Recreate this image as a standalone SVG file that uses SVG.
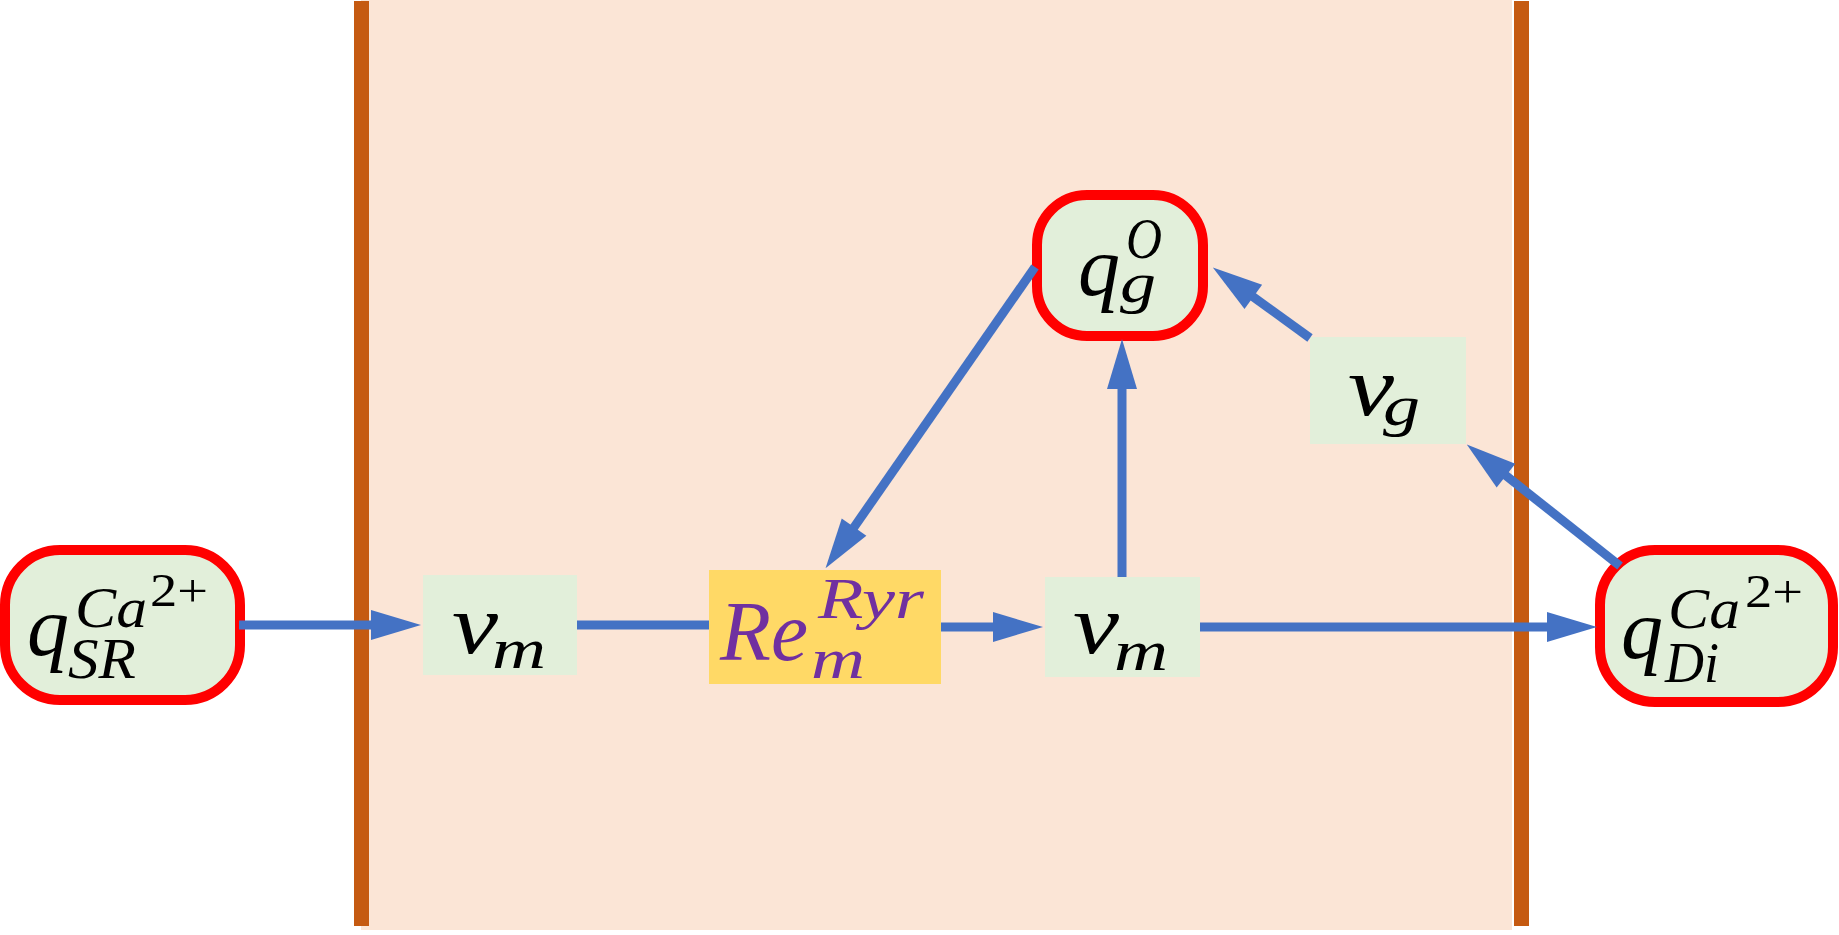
<svg xmlns="http://www.w3.org/2000/svg" width="1839" height="935" viewBox="0 0 1839 935">
<style>
.bg{fill:#FBE5D6}
.bar{fill:#C55A11}
.state{fill:#E2EFDA;stroke:#FF0000;stroke-width:10}
.flux{fill:#E2EFDA}
.rate{fill:#FFD966}
.conn{stroke:#4472C4;stroke-width:9;fill:none}
.m{font-family:"Liberation Serif","Times New Roman",serif;font-style:italic;fill:#000}
.up{font-style:normal}
.big{font-size:84px}
.sc{font-size:58px}
.ssc{font-size:46px}
.pur{fill:#7030A0}
</style>
<defs>
<marker id="ah" markerUnits="userSpaceOnUse" markerWidth="50" markerHeight="30" refX="1" refY="15" orient="auto" overflow="visible">
<path d="M0,0 L50,15 L0,30 z" fill="#4472C4"/>
</marker>
</defs>
<rect width="1839" height="935" fill="#FFFFFF"/>
<g id="compartment">
<rect class="bg" x="361" y="0" width="1151" height="930"/>
<rect class="bar" x="354" y="1" width="15" height="925"/>
<rect class="bar" x="1514" y="1" width="15" height="925"/>
</g>
<g id="q_SR">
<rect class="state" x="5" y="550" width="235" height="150" rx="55" ry="55"/>
<text class="m"><tspan class="big" x="27" y="655">q</tspan><tspan class="sc" x="75" y="627" textLength="72" lengthAdjust="spacingAndGlyphs">Ca</tspan><tspan class="ssc up" x="150" y="606" textLength="58" lengthAdjust="spacingAndGlyphs">2+</tspan><tspan class="sc" x="68" y="678" textLength="68" lengthAdjust="spacingAndGlyphs">SR</tspan></text>
</g>
<g id="v_m1">
<rect class="flux" x="423" y="575" width="154" height="100"/>
<text class="m"><tspan class="big" x="452" y="653" textLength="46" lengthAdjust="spacingAndGlyphs">v</tspan><tspan class="sc" x="492" y="668" textLength="54" lengthAdjust="spacingAndGlyphs">m</tspan></text>
</g>
<g id="Re_m">
<rect class="rate" x="709" y="570" width="232" height="114"/>
<text class="m pur"><tspan class="big" x="720" y="660" textLength="88" lengthAdjust="spacingAndGlyphs">Re</tspan><tspan class="sc" x="818" y="618" textLength="106" lengthAdjust="spacingAndGlyphs">Ryr</tspan><tspan class="sc" x="811" y="678" textLength="54" lengthAdjust="spacingAndGlyphs">m</tspan></text>
</g>
<g id="v_m2">
<rect class="flux" x="1045" y="577" width="155" height="100"/>
<text class="m"><tspan class="big" x="1073" y="653" textLength="46" lengthAdjust="spacingAndGlyphs">v</tspan><tspan class="sc" x="1114" y="670" textLength="54" lengthAdjust="spacingAndGlyphs">m</tspan></text>
</g>
<g id="q_g">
<rect class="state" x="1037" y="195" width="166" height="141" rx="50" ry="50"/>
<text class="m"><tspan class="big" x="1078" y="295">q</tspan><tspan class="sc" x="1126" y="258" textLength="36" lengthAdjust="spacingAndGlyphs">O</tspan><tspan class="sc" x="1120" y="302" textLength="36" lengthAdjust="spacingAndGlyphs">g</tspan></text>
</g>
<g id="v_g">
<rect class="flux" x="1310" y="337" width="156" height="107"/>
<text class="m"><tspan class="big" x="1348" y="415" textLength="46" lengthAdjust="spacingAndGlyphs">v</tspan><tspan class="sc" x="1383" y="425" textLength="37" lengthAdjust="spacingAndGlyphs">g</tspan></text>
</g>
<g id="q_Di">
<rect class="state" x="1600" y="550" width="233" height="152" rx="55" ry="55"/>
<text class="m"><tspan class="big" x="1621" y="658">q</tspan><tspan class="sc" x="1668" y="628" textLength="72" lengthAdjust="spacingAndGlyphs">Ca</tspan><tspan class="ssc up" x="1745" y="607" textLength="58" lengthAdjust="spacingAndGlyphs">2+</tspan><tspan class="sc" x="1665" y="682" textLength="54" lengthAdjust="spacingAndGlyphs">Di</tspan></text>
</g>
<g id="connectors">
<path class="conn" d="M239,625 L372,625" marker-end="url(#ah)"/>
<path class="conn" d="M577,625 L709,625"/>
<path class="conn" d="M941,627 L994,627" marker-end="url(#ah)"/>
<path class="conn" d="M1200,627 L1548,627" marker-end="url(#ah)"/>
<path class="conn" d="M1122,577 L1122,388" marker-end="url(#ah)"/>
<path class="conn" d="M1035,267 L853.5,528" marker-end="url(#ah)"/>
<path class="conn" d="M1310,338 L1252.5,296.3" marker-end="url(#ah)"/>
<path class="conn" d="M1620,566 L1505.2,475" marker-end="url(#ah)"/>
</g>
</svg>
